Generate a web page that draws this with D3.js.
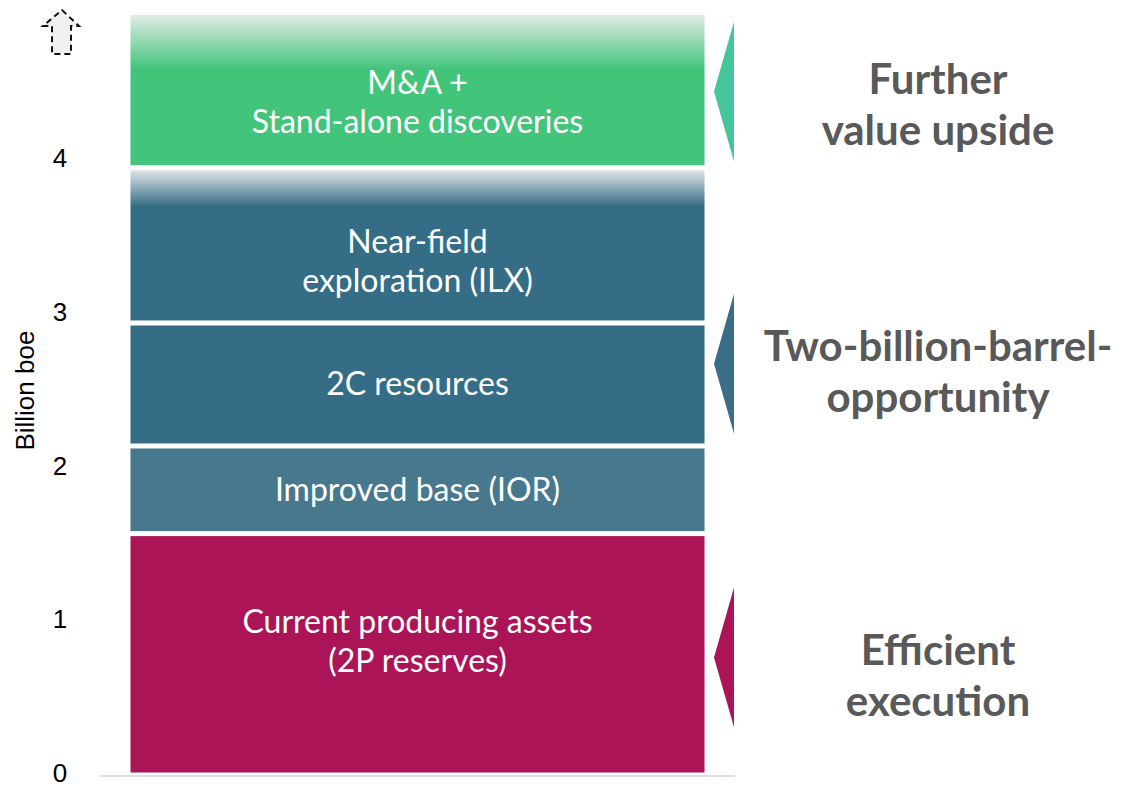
<!DOCTYPE html>
<html>
<head>
<meta charset="utf-8">
<script src="https://cdn.jsdelivr.net/npm/d3@7"></script>
<style>
  html, body { margin: 0; padding: 0; background: #fff; }
  svg { display: block; }
</style>
</head>
<body>
<svg id="chart"></svg>
<script>
// stacked segments, bottom to top (billion boe)
const segments = [
  'Current producing assets|(2P reserves)',
  'Improved base (IOR)',
  '2C resources',
  'Near-field|exploration (ILX)',
  'M&A +|Stand-alone discoveries'
];
const segmentValues = [1.57, 0.57, 0.80, 1.01, 1.01];
const yTicks = [0, 1, 2, 3, 4];

// bracket annotations on the right (range in billion boe)
const groups = ['Efficient|execution', 'Two-billion-barrel-|opportunity', 'Further|value upside'];
const groupFrom = [0.31, 2.22, 3.99];
const groupTo = [1.22, 3.13, 4.90];

const width = 1125;
const height = 788;
const marginLeft = 100;
const axisRight = 735;
const gap = 5;

const segColors = ['#ab1457', '#48788d', '#366d86', '#366d86', '#43c47b'];
const fadeTop = [null, null, null, '#dfe5e8', '#e1ece5'];
const fadeStop = [0, 0, 0, 0.24, 0.36];
const labelShift = [-13, 0, 0, 16, 12];
const groupColors = ['#ab1457', '#3a6e88', '#45c69a'];
const groupTextShift = [18, 8, 13];

const svg = d3.select('#chart')
  .attr('width', width)
  .attr('height', height)
  .style('font-family', 'Lato, sans-serif');

const y = d3.scaleLinear()
  .domain([0, 5])
  .range([775, 6.25]);

const x = d3.scaleBand()
  .domain(['stack'])
  .range([marginLeft, axisRight])
  .paddingInner(0)
  .paddingOuter(0.0531);

// cumulative stack
const stacked = [];
let acc = 0;
segmentValues.forEach((v, i) => {
  stacked.push({ i, label: segments[i], y0: acc, y1: acc + v });
  acc += v;
});

const defs = svg.append('defs');
stacked.forEach(d => {
  if (!fadeTop[d.i]) return;
  const g = defs.append('linearGradient')
    .attr('id', 'fade' + d.i)
    .attr('x1', '0%').attr('y1', '0%')
    .attr('x2', '0%').attr('y2', '100%');
  g.append('stop').attr('offset', '0%').attr('stop-color', fadeTop[d.i]);
  g.append('stop').attr('offset', fadeStop[d.i]).attr('stop-color', segColors[d.i]);
  g.append('stop').attr('offset', '100%').attr('stop-color', segColors[d.i]);
});

// baseline
svg.append('line')
  .attr('x1', marginLeft)
  .attr('x2', axisRight)
  .attr('y1', y(0) + 1)
  .attr('y2', y(0) + 1)
  .attr('stroke', '#dedede')
  .attr('stroke-width', 2);

// bars
const bx = x('stack');
const bw = x.bandwidth();
svg.selectAll('.seg')
  .data(stacked)
  .join('rect')
  .attr('class', 'seg')
  .attr('x', bx)
  .attr('width', bw)
  .attr('y', d => y(d.y1) + gap / 2)
  .attr('height', d => y(d.y0) - y(d.y1) - gap)
  .attr('fill', d => fadeTop[d.i] ? `url(#fade${d.i})` : segColors[d.i]);

// bar labels
const lineH = 39;
stacked.forEach(d => {
  const lines = d.label.split('|');
  const cy = (y(d.y0) + y(d.y1)) / 2 + labelShift[d.i];
  const t = svg.append('text')
    .attr('x', bx + bw / 2)
    .attr('text-anchor', 'middle')
    .attr('fill', '#fff')
    .attr('font-size', 32);
  lines.forEach((ln, k) => {
    t.append('tspan')
      .attr('x', bx + bw / 2)
      .attr('y', cy + (k - (lines.length - 1) / 2) * lineH + 11)
      .text(ln);
  });
});

// y axis ticks (no axis line)
svg.selectAll('.tick')
  .data(yTicks)
  .join('text')
  .attr('class', 'tick')
  .attr('x', 60)
  .attr('y', d => y(d) + 7)
  .attr('text-anchor', 'middle')
  .attr('font-family', 'Liberation Sans, Arial, sans-serif')
  .attr('font-size', 26)
  .attr('fill', '#000')
  .text(d => d);

svg.append('text')
  .attr('transform', `translate(34, ${y(2.5)}) rotate(-90)`)
  .attr('text-anchor', 'middle')
  .attr('font-family', 'Liberation Sans, Arial, sans-serif')
  .attr('font-size', 26)
  .attr('fill', '#000')
  .text('Billion boe');

// dashed up arrow at the top of the axis
svg.append('path')
  .attr('d', 'M62,10 L79,26 L71,26 L71,54 L52,54 L52,26 L43,26 Z')
  .attr('fill', '#f0f0f0')
  .attr('stroke', '#111')
  .attr('stroke-width', 2)
  .attr('stroke-dasharray', '6,4');

// bracket triangles
const triX = axisRight - 1;
svg.selectAll('.tri')
  .data(groups)
  .join('path')
  .attr('class', 'tri')
  .attr('d', (g, i) => {
    const top = y(groupTo[i]);
    const bot = y(groupFrom[i]);
    return `M${triX},${top} L${triX - 20},${(top + bot) / 2} L${triX},${bot} Z`;
  })
  .attr('fill', (g, i) => groupColors[i]);

// group labels
groups.forEach((g, i) => {
  const lines = g.split('|');
  const cy = y((groupFrom[i] + groupTo[i]) / 2) + groupTextShift[i];
  const t = svg.append('text')
    .attr('text-anchor', 'middle')
    .attr('font-weight', 'bold')
    .attr('font-size', 42)
    .attr('fill', '#595959');
  lines.forEach((ln, k) => {
    t.append('tspan')
      .attr('x', 938)
      .attr('y', cy + (k - 0.5) * 51 + 15)
      .text(ln);
  });
});
</script>
</body>
</html>
